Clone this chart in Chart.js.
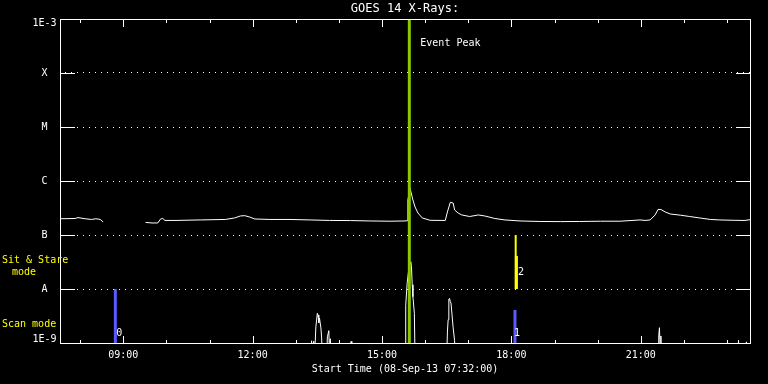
<!DOCTYPE html>
<html>
<head>
<meta charset="utf-8">
<title>GOES 14 X-Rays</title>
<script src="https://cdn.jsdelivr.net/npm/chart.js@4.4.1/dist/chart.umd.min.js"></script>
<style>
  html, body { margin: 0; padding: 0; background: #000; }
  canvas { display: block; }
</style>
</head>
<body>
<canvas id="xray" width="768" height="384"></canvas>
<script>
const START_TIME = '07:32';
const END_TIME = '23:32';

// long channel (1-8 A), null = data gap
const longTimes = ['07:33', '07:53', '07:57', '08:07', '08:16', '08:22', '08:28', '08:32', '09:00', '09:31',
  '09:40', '09:48', '09:52', '09:55', '09:58', '10:12', '10:47', '11:22', '11:35', '11:43',
  '11:49', '11:56', '12:03', '12:24', '12:52', '13:20', '13:47', '14:16', '14:43', '15:11',
  '15:32', '15:35', '15:36', '15:39', '15:43', '15:46', '15:50', '15:56', '16:07', '16:28',
  '16:31', '16:35', '16:39', '16:41', '16:46', '16:51', '17:02', '17:14', '17:23', '17:37',
  '17:51', '18:12', '18:40', '19:08', '19:35', '20:04', '20:31', '20:59', '21:06', '21:13',
  '21:20', '21:24', '21:28', '21:34', '21:41', '21:55', '22:08', '22:22', '22:37', '22:50',
  '23:11', '23:25', '23:32'];
const longFlux = [2.0e-7, 2.02e-7, 2.1e-7, 2.0e-7, 1.94e-7, 2.0e-7, 1.94e-7, 1.74e-7, null, 1.71e-7,
  1.67e-7, 1.67e-7, 1.98e-7, 2.02e-7, 1.86e-7, 1.86e-7, 1.90e-7, 1.94e-7, 2.07e-7, 2.25e-7,
  2.28e-7, 2.15e-7, 1.98e-7, 1.94e-7, 1.94e-7, 1.90e-7, 1.86e-7, 1.85e-7, 1.82e-7, 1.80e-7,
  1.82e-7, 1.84e-7, 4.45e-7, 7.32e-7, 4.45e-7, 3.30e-7, 2.55e-7, 2.07e-7, 1.87e-7, 1.86e-7,
  2.67e-7, 4.03e-7, 3.91e-7, 2.90e-7, 2.55e-7, 2.35e-7, 2.20e-7, 2.35e-7, 2.25e-7, 2.02e-7,
  1.90e-7, 1.82e-7, 1.78e-7, 1.77e-7, 1.78e-7, 1.80e-7, 1.80e-7, 1.90e-7, 1.86e-7, 1.90e-7,
  2.35e-7, 2.97e-7, 2.97e-7, 2.67e-7, 2.45e-7, 2.33e-7, 2.20e-7, 2.07e-7, 1.94e-7, 1.90e-7,
  1.87e-7, 1.86e-7, 1.92e-7];

// short channel (0.5-4 A), mostly below 1E-9
const shortTimes = ['07:32', '13:21', '13:22', '13:23', '13:25', '13:26', '13:28', '13:30', '13:31', '13:32',
  '13:33', '13:35', '13:36', '13:37', '13:43', '13:44', '13:46', '13:47', '13:48', '13:49',
  '13:50', '14:16', '14:17', '14:18', '15:32', '15:33', '15:35', '15:37', '15:39', '15:40',
  '15:41', '15:42', '15:43', '15:45', '15:46', '16:30', '16:31', '16:32', '16:33', '16:34',
  '16:35', '16:36', '16:37', '16:39', '16:41', '16:42', '21:24', '21:25', '21:26', '21:27',
  '21:28', '21:29', '23:15', '23:16', '23:17', '23:26', '23:27', '23:28', '23:32'];
const shortFlux = [5e-10, 5e-10, 1.1e-9, 5e-10, 1.08e-9, 5e-10, 2.0e-9, 3.55e-9, 3.3e-9, 2.35e-9,
  2.9e-9, 1.9e-9, 1.24e-9, 5e-10, 5e-10, 1.3e-9, 1.69e-9, 6e-10, 1.2e-9, 1.2e-9,
  5e-10, 5e-10, 1.07e-9, 5e-10, 5e-10, 5.0e-9, 1.28e-8, 2.2e-8, 3.0e-8, 3.2e-8,
  2.6e-8, 1.2e-8, 7.2e-9, 3.55e-9, 5e-10, 5e-10, 1.6e-9, 2.7e-9, 6.5e-9, 6.7e-9,
  5.8e-9, 5.5e-9, 5.5e-9, 1.9e-9, 1.1e-9, 5e-10, 5e-10, 1.35e-9, 1.92e-9, 8e-10,
  1.35e-9, 5e-10, 5e-10, 1.12e-9, 5e-10, 5e-10, 1.05e-9, 5e-10, 5e-10];

// observing mode markers
const eventPeakTime = '15:38';
const scanTimes = ['08:49', '18:05'];
const scanTops = [1e-8, 4.1e-9];
const scanLabels = ['0', '1'];
const stareTimes = ['18:06', '18:07'];
const stareTops = [1e-7, 4.1e-8];
const stareLabel = '2';

const yTickValues = [1e-9, 1e-8, 1e-7, 1e-6, 1e-5, 1e-4, 1e-3];
const yTickLabels = ['1E-9', 'A', 'B', 'C', 'M', 'X', '1E-3'];
const xTickHours = [8, 9, 10, 11, 12, 13, 14, 15, 16, 17, 18, 19, 20, 21, 22, 23];
const xLabelHours = [9, 12, 15, 18, 21];

const WHITE = '#ffffff';
const YELLOW = '#ffff00';
const BLUE = '#5a5aff';
const GREEN = '#8cc800';
const FONT = '"DejaVu Sans Mono", monospace';

const toHours = (t) => {
  const [h, m] = t.split(':').map(Number);
  return h + m / 60;
};

const vbar = (t, lo, hi, color, width) => ({
  data: [{ x: toHours(t), y: lo }, { x: toHours(t), y: hi }],
  borderColor: color,
  borderWidth: width,
  borderCapStyle: 'butt',
  pointRadius: 0,
  clip: 0,
});

const frame = {
  id: 'frame',
  beforeDraw(chart) {
    const { ctx, width, height } = chart;
    ctx.save();
    ctx.fillStyle = '#000';
    ctx.fillRect(0, 0, width, height);
    ctx.restore();
  },
  afterDraw(chart) {
    const { ctx, chartArea: { left, right, top, bottom }, scales: { x, y } } = chart;
    ctx.save();
    ctx.strokeStyle = WHITE;
    ctx.lineWidth = 1;
    ctx.strokeRect(left + 0.5, top + 0.5, right - left, bottom - top);

    ctx.beginPath();
    yTickValues.slice(1, -1).forEach((v) => {
      const py = Math.round(y.getPixelForValue(v)) + 0.5;
      ctx.moveTo(left, py); ctx.lineTo(left + 15, py);
      ctx.moveTo(right - 14, py); ctx.lineTo(right + 1, py);
    });
    xTickHours.forEach((h) => {
      const px = Math.round(x.getPixelForValue(h)) + 0.5;
      const len = xLabelHours.includes(h) ? 7 : 3;
      ctx.moveTo(px, bottom); ctx.lineTo(px, bottom - len);
      ctx.moveTo(px, top + 1); ctx.lineTo(px, top + 1 + len);
    });
    ctx.stroke();

    // annotations
    ctx.font = '10px ' + FONT;
    ctx.textBaseline = 'middle';
    ctx.fillStyle = WHITE;
    ctx.textAlign = 'left';
    ctx.fillText('Event Peak', x.getPixelForValue(toHours(eventPeakTime)) + 11, top + 24);
    ctx.textAlign = 'center';
    ctx.fillText(scanLabels[0], x.getPixelForValue(toHours(scanTimes[0])) + 4, bottom - 10);
    ctx.fillText(scanLabels[1], x.getPixelForValue(toHours(scanTimes[1])) + 2, bottom - 10);
    ctx.fillText(stareLabel, x.getPixelForValue(toHours(stareTimes[1])) + 4.5, y.getPixelForValue(1e-8) - 17);

    ctx.fillStyle = YELLOW;
    ctx.textAlign = 'left';
    ctx.fillText('Sit & Stare', 2, 260);
    ctx.fillText('mode', 12, 272);
    ctx.fillText('Scan mode', 2, 324);
    ctx.restore();
  },
};

Chart.defaults.font.family = FONT;
Chart.defaults.font.size = 10;
Chart.defaults.color = WHITE;

new Chart(document.getElementById('xray'), {
  type: 'line',
  data: {
    datasets: [
      vbar(eventPeakTime, 1e-9, 1e-3, GREEN, 3),
      vbar(scanTimes[0], 1e-9, scanTops[0], BLUE, 3),
      vbar(scanTimes[1], 1e-9, scanTops[1], BLUE, 3),
      vbar(stareTimes[0], 1e-8, stareTops[0], YELLOW, 2),
      vbar(stareTimes[1], 1e-8, stareTops[1], YELLOW, 3),
      {
        data: longTimes.map((t, i) => ({ x: toHours(t), y: longFlux[i] })),
        borderColor: WHITE,
        borderWidth: 1,
        pointRadius: 0,
        spanGaps: false,
        clip: 0,
      },
      {
        data: shortTimes.map((t, i) => ({ x: toHours(t), y: shortFlux[i] })),
        borderColor: WHITE,
        borderWidth: 1,
        pointRadius: 0,
        clip: 0,
      },
    ],
  },
  options: {
    responsive: false,
    animation: false,
    events: [],
    layout: { padding: { left: 0, right: 18, top: 0, bottom: 0 } },
    plugins: {
      legend: { display: false },
      tooltip: { enabled: false },
      title: {
        display: true,
        text: 'GOES 14 X-Rays:',
        color: WHITE,
        fullSize: false,
        font: { size: 12, weight: 'normal' },
        padding: { top: 2, bottom: 2.6 },
      },
    },
    scales: {
      x: {
        type: 'linear',
        min: toHours(START_TIME),
        max: toHours(END_TIME),
        afterBuildTicks: (s) => { s.ticks = xLabelHours.map((v) => ({ value: v })); },
        afterFit: (s) => { s.height = 41; s.paddingLeft = 0; s.paddingRight = 0; },
        ticks: {
          color: WHITE,
          padding: 6,
          maxRotation: 0,
          autoSkip: false,
          callback: (v) => String(v).padStart(2, '0') + ':00',
        },
        grid: { display: false, drawTicks: false },
        border: { display: false },
        title: {
          display: true,
          text: 'Start Time (08-Sep-13 07:32:00)',
          color: WHITE,
          padding: { top: 0, bottom: 9 },
        },
      },
      y: {
        type: 'logarithmic',
        min: 1e-9,
        max: 1e-3,
        afterBuildTicks: (s) => { s.ticks = yTickValues.map((v) => ({ value: v })); },
        afterFit: (s) => { s.width = 60; s.paddingTop = 0; s.paddingBottom = 0; },
        ticks: {
          color: WHITE,
          padding: 3.5,
          crossAlign: 'center',
          autoSkip: false,
          font: { size: 10, lineHeight: 0.8 },
          callback: (v, i) => {
            const label = yTickLabels[i];
            if (i === 0) return [label, ''];
            if (i === yTickLabels.length - 1) return ['', label];
            return label;
          },
        },
        grid: {
          drawTicks: false,
          lineWidth: 1,
          color: (c) => (c.index === 0 || c.index === yTickValues.length - 1 ? 'rgba(0,0,0,0)' : WHITE),
        },
        border: { display: false, dash: [1, 5], dashOffset: 1 },
      },
    },
  },
  plugins: [frame],
});
</script>
</body>
</html>
